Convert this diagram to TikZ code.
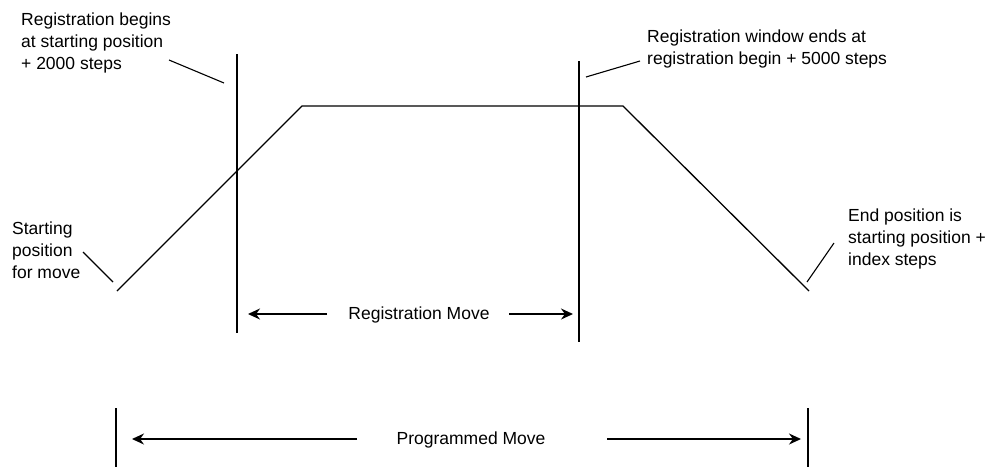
\documentclass[tikz,border=0pt]{standalone}
\usepackage{fontspec}
\setmainfont{Liberation Sans}
\usetikzlibrary{arrows.meta}
\begin{document}
\begin{tikzpicture}[x=1pt,y=-1pt,
  ln/.style={line width=1.3pt},
  lead/.style={line width=1.1pt},
  arr/.style={line width=1.3pt,-{Stealth[length=12pt,width=11pt]}},
  lbl/.style={font=\fontsize{17.5}{22}\selectfont,align=left,anchor=north west,inner sep=0pt},
  clbl/.style={font=\fontsize{17.5}{22}\selectfont,anchor=base,inner sep=0pt}]
\useasboundingbox (0,0) rectangle (991,467);
% profile
\coordinate (p0) at (117,291);
\coordinate (p1) at (302,106);
\coordinate (p2) at (623,106);
\coordinate (p3) at (809,291);
\draw[ln] (p0) -- (p1) -- (p2) -- (p3);
% registration window lines
\coordinate (r1t) at (237,54);  \coordinate (r1b) at (237,333);
\coordinate (r2t) at (579,61);  \coordinate (r2b) at (579,342);
\draw[ln] (r1t) -- (r1b);
\draw[ln] (r2t) -- (r2b);
% programmed move lines
\coordinate (m1t) at (116,408); \coordinate (m1b) at (116,467);
\coordinate (m2t) at (808,408); \coordinate (m2b) at (808,467);
\draw[ln] (m1t) -- (m1b);
\draw[ln] (m2t) -- (m2b);
% labels
\node[lbl] (tbeg) at (21,13) {Registration begins\\at starting position\\+ 2000 steps};
\node[lbl] (tend) at (647,30) {Registration window ends at\\registration begin + 5000 steps};
\node[lbl] (tstart) at (12,222) {Starting\\position\\for move};
\node[lbl] (tfin) at (848,209) {End position is\\starting position +\\index steps};
% leaders
\coordinate (l1a) at (169,60);  \coordinate (l1b) at (224,83);
\coordinate (l2a) at (640,61);  \coordinate (l2b) at (586,77);
\coordinate (l3a) at (83,252);  \coordinate (l3b) at (113,282);
\coordinate (l4a) at (834,243); \coordinate (l4b) at (807,282);
\draw[lead] (l1a) -- (l1b);
\draw[lead] (l2a) -- (l2b);
\draw[lead] (l3a) -- (l3b);
\draw[lead] (l4a) -- (l4b);
% registration move
\node[clbl] (rm) at (419,319) {Registration Move};
\coordinate (ra1) at (327,314); \coordinate (ra1t) at (248,314);
\coordinate (ra2) at (509,314); \coordinate (ra2t) at (573,314);
\draw[arr] (ra1) -- (ra1t);
\draw[arr] (ra2) -- (ra2t);
% programmed move
\node[clbl] (pm) at (471,444) {Programmed Move};
\coordinate (pa1) at (357,439); \coordinate (pa1t) at (132,439);
\coordinate (pa2) at (607,439); \coordinate (pa2t) at (801,439);
\draw[arr] (pa1) -- (pa1t);
\draw[arr] (pa2) -- (pa2t);
\end{tikzpicture}
\end{document}
